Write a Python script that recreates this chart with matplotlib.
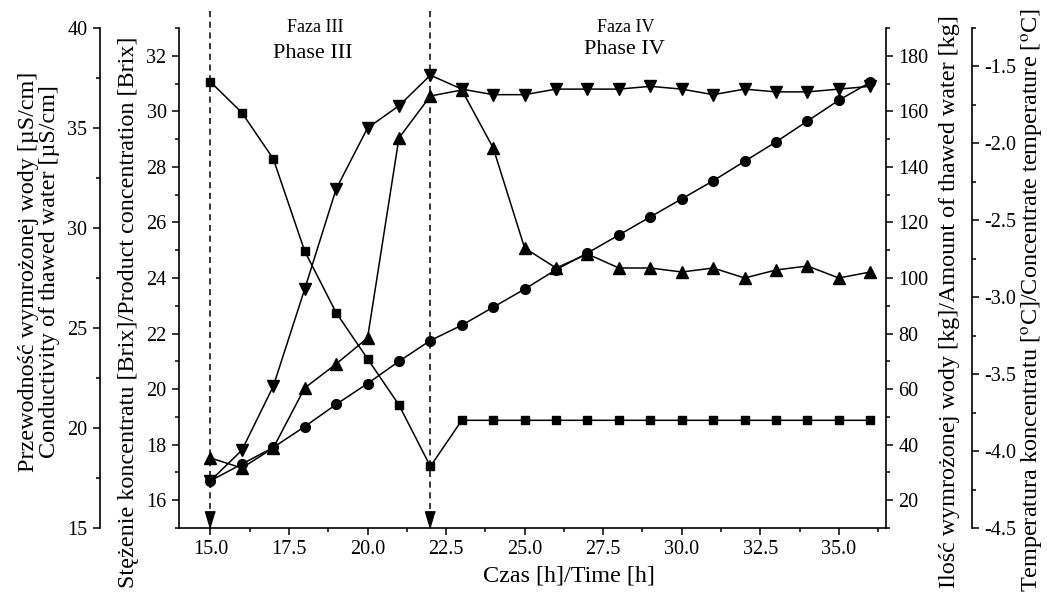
import matplotlib
matplotlib.use("Agg")
import matplotlib.pyplot as plt
from matplotlib.ticker import MultipleLocator, FormatStrFormatter

plt.rcParams['font.family'] = 'Liberation Serif'
plt.rcParams['mathtext.fontset'] = 'stix'
plt.rcParams['axes.unicode_minus'] = False

# czas [h]
hours = [15, 16, 17, 18, 19, 20, 21, 22, 23, 24, 25, 26, 27, 28, 29, 30, 31, 32, 33, 34, 35, 36]
# przewodnosc wymrozonej wody [uS/cm]  (trojkaty w gore)
conductivity = [18.5, 18.0, 19.0, 22.0, 23.2, 24.5, 34.5, 36.6, 36.9, 34.0, 29.0,
                28.0, 28.7, 28.0, 28.0, 27.8, 28.0, 27.5, 27.9, 28.1, 27.5, 27.8]
# stezenie koncentratu [Brix]  (trojkaty w dol)
brix = [16.7, 17.8, 20.1, 23.6, 27.2, 29.4, 30.2, 31.3, 30.8, 30.6, 30.6,
        30.8, 30.8, 30.8, 30.9, 30.8, 30.6, 30.8, 30.7, 30.7, 30.8, 30.9]
# ilosc wymrozonej wody [kg]  (kolka)
water = [27, 33, 39, 46.5, 54.5, 62, 70, 77.5, 83, 89.5, 96,
         103, 109, 115.5, 122, 128.5, 135, 142, 149, 156.5, 164, 170.5]
# temperatura koncentratu [C]  (kwadraty)
temperature = [-1.6, -1.8, -2.1, -2.7, -3.1, -3.4, -3.7, -4.1, -3.8, -3.8, -3.8,
               -3.8, -3.8, -3.8, -3.8, -3.8, -3.8, -3.8, -3.8, -3.8, -3.8, -3.8]
phase_bounds = [15, 22]

W, H = 1047, 592
fig = plt.figure(figsize=(W / 100, H / 100), dpi=100)
ax = fig.add_axes([179 / W, 1 - 528 / H, (886 - 179) / W, 500 / H])
ax_w = ax.twinx()
ax_t = ax.twinx()
ax_c = ax.twinx()

for a in (ax, ax_w, ax_t, ax_c):
    for s in a.spines.values():
        s.set_visible(False)
        s.set_linewidth(1.2)
ax.spines['left'].set_visible(True)
ax.spines['bottom'].set_visible(True)
ax_w.spines['right'].set_visible(True)
ax_t.spines['right'].set_visible(True)
ax_t.spines['right'].set_position(('outward', 86 * 0.72))   # 86 px
ax_c.spines['left'].set_visible(True)
ax_c.spines['left'].set_position(('outward', 79 * 0.72))    # 79 px
ax_c.yaxis.set_ticks_position('left')
ax_c.yaxis.set_label_position('left')

line_kw = dict(color='k', lw=1.1, mec='k', mfc='k')
ax.plot(hours, brix, marker='v', ms=8, **line_kw)
ax_w.plot(hours, water, marker='o', ms=7, **line_kw)
ax_t.plot(hours, temperature, marker='s', ms=5.5, **line_kw)
ax_c.plot(hours, conductivity, marker='^', ms=8, **line_kw)

ax.set_xlim(14, 36.5)
ax.set_ylim(15, 33)
ax_w.set_ylim(10, 190)
ax_t.set_ylim(-4.5, -1.25)
ax_c.set_ylim(15, 40)

# przerywane linie granic faz ze strzalka
arrow = [(0, 0), (-0.3, 1), (0.3, 1)]
for xb in phase_bounds:
    ax.plot([xb, xb], [33.6, 15.3], color='k', lw=1.1, ls=(0, (4, 3)), clip_on=False)
    ax.plot([xb], [15], marker=arrow, ms=24, color='k', clip_on=False)

ax.xaxis.set_major_locator(MultipleLocator(2.5))
ax.xaxis.set_minor_locator(MultipleLocator(1.25))
ax.xaxis.set_major_formatter(FormatStrFormatter('%.1f'))
ax.yaxis.set_major_locator(MultipleLocator(2))
ax.yaxis.set_minor_locator(MultipleLocator(1))
ax_w.yaxis.set_major_locator(MultipleLocator(20))
ax_w.yaxis.set_minor_locator(MultipleLocator(10))
ax_t.yaxis.set_major_locator(MultipleLocator(0.5))
ax_t.yaxis.set_minor_locator(MultipleLocator(0.25))
ax_t.yaxis.set_major_formatter(FormatStrFormatter('%.1f'))
ax_c.yaxis.set_major_locator(MultipleLocator(5))
ax_c.yaxis.set_minor_locator(MultipleLocator(2.5))

for a in (ax, ax_w, ax_t, ax_c):
    a.tick_params(which='major', direction='out', length=5, width=1.1, labelsize=14.5, pad=4)
    a.tick_params(which='minor', direction='out', length=3, width=1.1)

lab = 17.4
ax.set_xlabel('Czas [h]/Time [h]', fontsize=lab)
ax.xaxis.set_label_coords(569 / W, 1 - 576 / H, transform=fig.transFigure)
ax.xaxis.label.set_va('center')

ax.set_ylabel('Stężenie koncentratu [Brix]/Product concentration [Brix]', fontsize=lab)
ax.yaxis.set_label_coords(129 / W, 1 - 312 / H, transform=fig.transFigure)
ax.yaxis.label.set_va('center')

ax_c.set_ylabel('Przewodność wymrożonej wody [µS/cm]\nConductivity of thawed water [µS/cm]',
                fontsize=lab, linespacing=1.0)
ax_c.yaxis.set_label_coords(39 / W, 1 - 272 / H, transform=fig.transFigure)
ax_c.yaxis.label.set_va('center')

ax_w.set_ylabel('Ilość wymrożonej wody [kg]/Amount of thawed water [kg]', fontsize=lab)
ax_w.yaxis.set_label_coords(950 / W, 1 - 302 / H, transform=fig.transFigure)
ax_w.yaxis.label.set_va('center')

ax_t.set_ylabel('Temperatura koncentratu [$^{\\mathrm{o}}$C]/Concentrate temperature [$^{\\mathrm{o}}$C]',
                fontsize=lab)
ax_t.yaxis.set_label_coords(1033 / W, 1 - 300 / H, transform=fig.transFigure)
ax_t.yaxis.label.set_va('center')

fig.text(315 / W, 1 - 27 / H, 'Faza III', fontsize=13, ha='center', va='center')
fig.text(313 / W, 1 - 53 / H, 'Phase III', fontsize=16, ha='center', va='center')
fig.text(626 / W, 1 - 27 / H, 'Faza IV', fontsize=13, ha='center', va='center')
fig.text(624 / W, 1 - 50 / H, 'Phase IV', fontsize=16, ha='center', va='center')

fig.savefig('out.png', dpi=100)
